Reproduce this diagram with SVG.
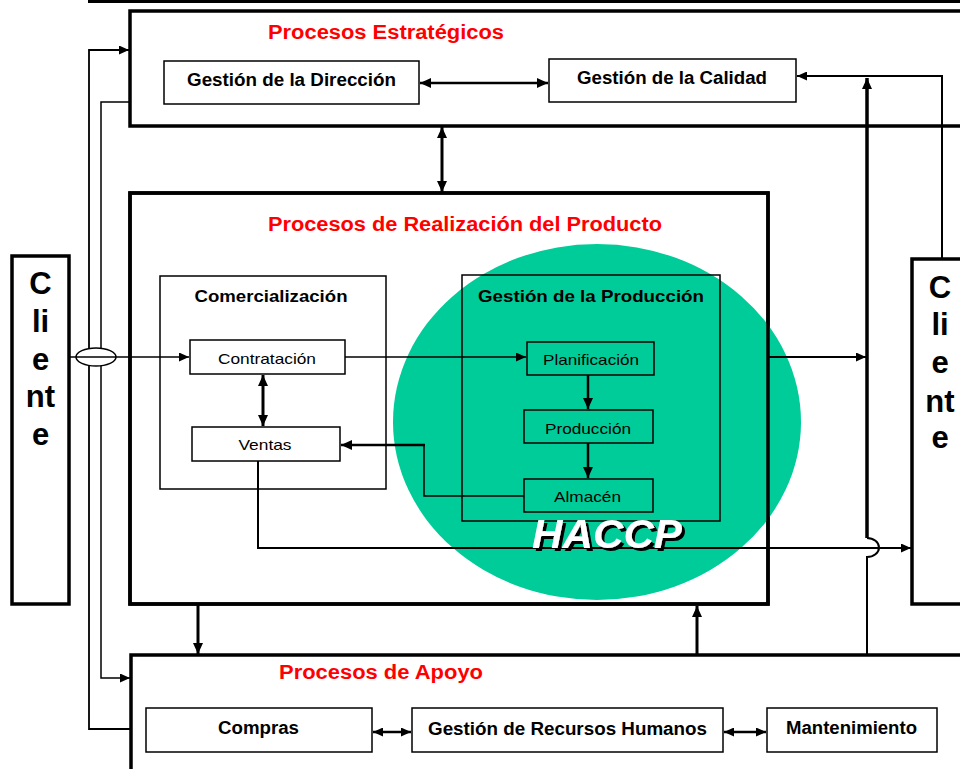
<svg xmlns="http://www.w3.org/2000/svg" width="960" height="769" viewBox="0 0 960 769">
  <style>
    text { font-family: "Liberation Sans", Arial, sans-serif; fill: #000; }
    .title { font-size: 20px; font-weight: bold; fill: #FF0000; text-anchor: middle; }
    .b18 { font-size: 18px; font-weight: bold; text-anchor: middle; }
    .b17 { font-size: 17px; font-weight: bold; text-anchor: middle; }
    .n15 { font-size: 15px; text-anchor: middle; }
    .cli { font-size: 31px; font-weight: bold; text-anchor: middle; }
    .big { fill: #fff; stroke: #000; stroke-width: 3.5; }
    .bigo { fill: none; stroke: #000; stroke-width: 3.5; }
    .box { fill: #fff; stroke: #000; stroke-width: 1.5; }
    .boxt { fill: none; stroke: #000; stroke-width: 1.5; }
    .c { fill: none; stroke: #000; }
    .haccp { font-size: 40px; font-weight: bold; font-style: italic; text-anchor: middle; fill: #fff; }
  </style>
  <defs>
    <marker id="ah" markerUnits="userSpaceOnUse" markerWidth="11" markerHeight="10" refX="11" refY="5" orient="auto-start-reverse">
      <path d="M0,0 L11,5 L0,10 z" fill="#000"/>
    </marker>
    <marker id="ahs" markerUnits="userSpaceOnUse" markerWidth="10" markerHeight="9" refX="10" refY="4.5" orient="auto-start-reverse">
      <path d="M0,0 L10,4.5 L0,9 z" fill="#000"/>
    </marker>
    <filter id="shadow" x="-10%" y="-20%" width="130%" height="150%">
      <feOffset in="SourceAlpha" dx="3" dy="3" result="off"/>
      <feFlood flood-color="#000" result="blk"/>
      <feComposite in="blk" in2="off" operator="in" result="sh"/>
      <feMerge>
        <feMergeNode in="sh"/>
        <feMergeNode in="SourceGraphic"/>
      </feMerge>
    </filter>
  </defs>
  <rect x="0" y="0" width="960" height="769" fill="#fff"/>
  <line x1="88" y1="1.5" x2="960" y2="1.5" stroke="#000" stroke-width="3"/>

  <g id="procesos-estrategicos">
    <rect class="big" x="130" y="11" width="850" height="115"/>
    <text class="title" x="386" y="39" textLength="236" lengthAdjust="spacingAndGlyphs">Procesos Estratégicos</text>
  </g>
  <g id="gestion-direccion">
    <rect class="box" x="164" y="61" width="255" height="43"/>
    <text class="b18" x="291.5" y="86" textLength="209" lengthAdjust="spacingAndGlyphs">Gestión de la Dirección</text>
  </g>
  <g id="gestion-calidad">
    <rect class="box" x="549" y="59" width="247" height="43"/>
    <text class="b18" x="672" y="84" textLength="190" lengthAdjust="spacingAndGlyphs">Gestión de la Calidad</text>
  </g>

  <g id="procesos-realizacion">
    <rect class="big" x="130" y="193" width="638" height="411"/>
  </g>
  <g id="haccp">
    <ellipse cx="597" cy="422" rx="204" ry="178" fill="#00CC99"/>
  </g>
  <g id="procesos-realizacion-borde">
    <rect class="bigo" x="130" y="193" width="638" height="411"/>
    <text class="title" x="465" y="231" textLength="394" lengthAdjust="spacingAndGlyphs">Procesos de Realización del Producto</text>
  </g>

  <g id="comercializacion">
    <rect class="box" x="160" y="276" width="226" height="213"/>
    <text class="b17" x="271" y="302" textLength="153" lengthAdjust="spacingAndGlyphs">Comercialización</text>
  </g>
  <g id="contratacion">
    <rect class="box" x="190" y="340" width="155" height="34"/>
    <text class="n15" x="267" y="364" textLength="98" lengthAdjust="spacingAndGlyphs">Contratación</text>
  </g>
  <g id="ventas">
    <rect class="box" x="192" y="427" width="148" height="34"/>
    <text class="n15" x="265" y="450" textLength="53" lengthAdjust="spacingAndGlyphs">Ventas</text>
  </g>

  <g id="gestion-produccion">
    <rect class="boxt" x="462" y="275" width="258" height="246"/>
    <text class="b17" x="591" y="302" textLength="226" lengthAdjust="spacingAndGlyphs">Gestión de la Producción</text>
  </g>
  <g id="planificacion">
    <rect class="boxt" x="527" y="342" width="127" height="33"/>
    <text class="n15" x="591" y="365" textLength="96" lengthAdjust="spacingAndGlyphs">Planificación</text>
  </g>
  <g id="produccion">
    <rect class="boxt" x="524" y="410" width="129" height="33"/>
    <text class="n15" x="588" y="434" textLength="86" lengthAdjust="spacingAndGlyphs">Producción</text>
  </g>
  <g id="almacen">
    <rect class="boxt" x="524" y="479" width="129" height="33"/>
    <text class="n15" x="587.5" y="502" textLength="67" lengthAdjust="spacingAndGlyphs">Almacén</text>
  </g>

  <g id="cliente-izq">
    <rect x="12" y="256" width="57" height="348" fill="#fff" stroke="#000" stroke-width="3.5"/>
    <text class="cli" x="40.5" y="294">C</text>
    <text class="cli" x="40.5" y="332">li</text>
    <text class="cli" x="40.5" y="370">e</text>
    <text class="cli" x="40.5" y="407">nt</text>
    <text class="cli" x="40.5" y="445">e</text>
  </g>
  <g id="cliente-der">
    <rect x="912" y="259" width="60" height="345" fill="#fff" stroke="#000" stroke-width="3.5"/>
    <text class="cli" x="940" y="298">C</text>
    <text class="cli" x="940" y="335">li</text>
    <text class="cli" x="940" y="373">e</text>
    <text class="cli" x="940" y="412">nt</text>
    <text class="cli" x="940" y="448">e</text>
  </g>

  <g id="procesos-apoyo">
    <rect class="big" x="131" y="655" width="850" height="150"/>
    <text class="title" x="381" y="679" textLength="204" lengthAdjust="spacingAndGlyphs">Procesos de Apoyo</text>
  </g>
  <g id="compras">
    <rect class="box" x="146" y="708" width="226" height="44"/>
    <text class="b18" x="258.5" y="734" textLength="81" lengthAdjust="spacingAndGlyphs">Compras</text>
  </g>
  <g id="recursos-humanos">
    <rect class="box" x="412" y="708" width="311" height="44"/>
    <text class="b18" x="567.5" y="735" textLength="279" lengthAdjust="spacingAndGlyphs">Gestión de Recursos Humanos</text>
  </g>
  <g id="mantenimiento">
    <rect class="box" x="767" y="708" width="170" height="44"/>
    <text class="b18" x="851.5" y="734" textLength="131" lengthAdjust="spacingAndGlyphs">Mantenimiento</text>
  </g>

  <g id="connectors">
    <path class="c" stroke-width="2.5" d="M420,83 H548" marker-start="url(#ah)" marker-end="url(#ah)"/>
    <path class="c" stroke-width="3" d="M442,127 V192" marker-start="url(#ah)" marker-end="url(#ah)"/>
    <path class="c" stroke-width="1.5" d="M130,102 H101 V678 H130" marker-end="url(#ahs)"/>
    <path class="c" stroke-width="1.8" d="M131,729 H89 V50 H129" marker-end="url(#ahs)"/>
    <ellipse cx="96" cy="357" rx="20" ry="9" fill="#fff" stroke="#000" stroke-width="1.5"/>
    <path class="c" stroke-width="1.5" d="M69,357 H189" marker-end="url(#ahs)"/>
    <path class="c" stroke-width="1.5" d="M345,357 H526" marker-end="url(#ahs)"/>
    <path class="c" stroke-width="3" d="M263,375 V426" marker-start="url(#ah)" marker-end="url(#ah)"/>
    <path class="c" stroke-width="2.5" d="M588,375 V409" marker-end="url(#ah)"/>
    <path class="c" stroke-width="2.5" d="M588,443 V478" marker-end="url(#ah)"/>
    <path class="c" stroke-width="1.5" d="M524,496 H424 V445"/>
    <path class="c" stroke-width="2.5" d="M425,445 H341" marker-end="url(#ah)"/>
    <path class="c" stroke-width="2" d="M258,461 V548 H911" marker-end="url(#ahs)"/>
    <path class="c" stroke-width="2" d="M768,357 H866" marker-end="url(#ahs)"/>
    <path class="c" stroke-width="3.5" d="M867,538 V78" marker-end="url(#ah)"/>
    <path class="c" stroke-width="2" d="M867,655 V557 A12,9.5 0 0 0 867,538"/>
    <path class="c" stroke-width="2" d="M942,259 V76 H797" marker-end="url(#ahs)"/>
    <path class="c" stroke-width="3" d="M198,605 V654" marker-end="url(#ah)"/>
    <path class="c" stroke-width="3" d="M697,655 V606" marker-end="url(#ah)"/>
    <path class="c" stroke-width="2.5" d="M373,732 H411" marker-start="url(#ahs)" marker-end="url(#ahs)"/>
    <path class="c" stroke-width="2.5" d="M724,732 H766" marker-start="url(#ahs)" marker-end="url(#ahs)"/>
  </g>

  <g id="haccp-label">
    <text class="haccp" x="607" y="548" textLength="150" lengthAdjust="spacingAndGlyphs" filter="url(#shadow)">HACCP</text>
  </g>
</svg>
